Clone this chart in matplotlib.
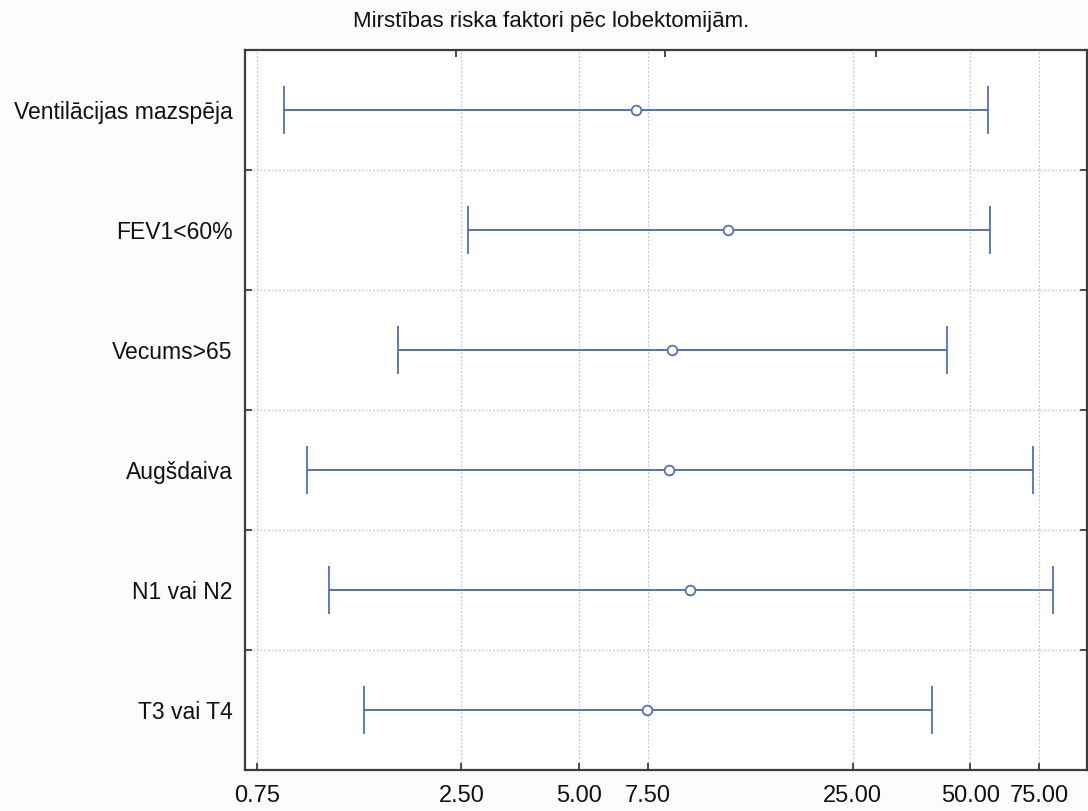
import matplotlib
matplotlib.use("Agg")
import matplotlib.pyplot as plt
from matplotlib.ticker import FixedLocator, NullFormatter, NullLocator

# Risk factors with odds ratio and 95% confidence interval
factors = ["Ventilācijas mazspēja", "FEV1<60%", "Vecums>65", "Augšdaiva", "N1 vai N2", "T3 vai T4"]
odds_ratio = [6.99, 12.0, 8.64, 8.49, 9.62, 7.47]
ci_low = [0.879, 2.60, 1.72, 1.01, 1.15, 1.41]
ci_high = [55.3, 56.2, 43.6, 72.1, 81.1, 39.8]

x_ticks = [0.75, 2.5, 5.0, 7.5, 25.0, 50.0, 75.0]
title = "Mirstības riska faktori pēc lobektomijām."

blue = "#5470b4"
spine_col = "#3c3c3c"
grid_col = "#c4c4c4"

plt.rcParams["font.family"] = ["Liberation Sans", "DejaVu Sans"]

fig = plt.figure(figsize=(10.88, 8.11), dpi=100, facecolor="#fdfcfa")
ax = fig.add_axes([245 / 1088, 41 / 811, 841.5 / 1088, 720 / 811])
ax.set_facecolor("white")

ypos = [i + 0.5 for i in range(len(factors))]
err_lo = [m - l for m, l in zip(odds_ratio, ci_low)]
err_hi = [h - m for m, h in zip(odds_ratio, ci_high)]

ax.errorbar(odds_ratio, ypos, xerr=[err_lo, err_hi], fmt="o", color=blue,
            ecolor=blue, elinewidth=1.4, capsize=17.5, capthick=1.7,
            markersize=7, markerfacecolor="white", markeredgecolor=blue,
            markeredgewidth=1.3, zorder=3)

ax.set_xscale("log")
ax.set_xlim(0.70, 99.0)
ax.set_ylim(len(factors), 0)

# x axis: fixed ticks with two-decimal labels
ax.xaxis.set_major_locator(FixedLocator(x_ticks))
ax.xaxis.set_minor_locator(NullLocator())
ax.set_xticklabels([f"{v:.2f}" for v in x_ticks])

# y axis: gridlines at category boundaries, labels at row centres
ax.yaxis.set_major_locator(FixedLocator(list(range(1, len(factors)))))
ax.yaxis.set_major_formatter(NullFormatter())
ax.yaxis.set_minor_locator(FixedLocator(ypos))
ax.set_yticklabels(factors, minor=True)

ax.tick_params(axis="y", which="minor", length=0, pad=9, labelsize=16.5, labelcolor="#111111")
ax.tick_params(axis="y", which="major", direction="in", length=5, width=1.3,
               color=spine_col, left=True, right=True)
ax.tick_params(axis="x", which="major", direction="in", length=5, width=1.3,
               color=spine_col, pad=11, labelsize=17, labelcolor="#111111")

ax.grid(True, which="major", color=grid_col, linestyle=(0, (1.5, 1.5)), linewidth=0.9)
ax.set_axisbelow(True)

for s in ax.spines.values():
    s.set_color(spine_col)
    s.set_linewidth(1.6)

# short inward ticks on the top frame
top = ax.secondary_xaxis("top")
top.xaxis.set_major_locator(FixedLocator([2.42, 8.30, 28.7]))
top.xaxis.set_minor_locator(NullLocator())
top.xaxis.set_major_formatter(NullFormatter())
top.tick_params(direction="in", length=5, width=1.3, color=spine_col)
top.spines["top"].set_visible(False)

fig.text(551.5 / 1088, 1 - 21 / 811, title, ha="center", va="center",
         fontsize=16, color="#111111")

fig.savefig("out.png", dpi=100, facecolor=fig.get_facecolor())
